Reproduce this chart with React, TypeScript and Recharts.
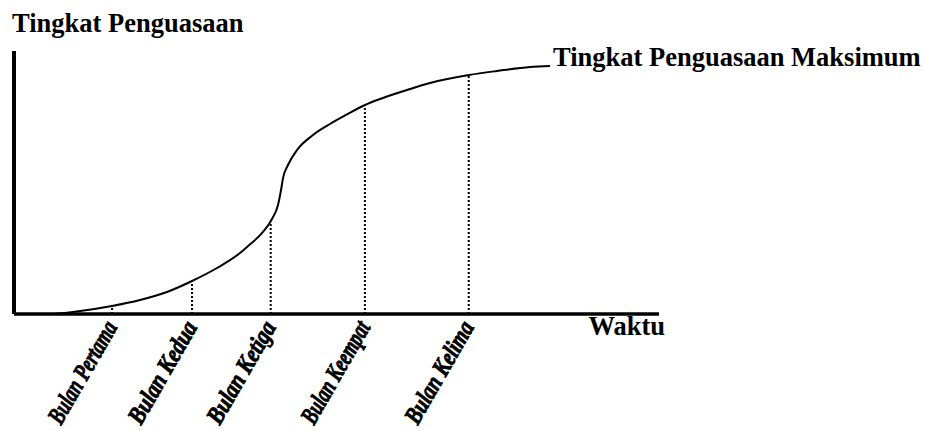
import { LineChart, Line, XAxis, YAxis, ReferenceLine, Label, LabelList } from 'recharts';

// curve (time 0-100, mastery 0-100)
const curveX = [6.05, 9.15, 15.19, 19.53, 23.72, 27.6, 31.47, 35.04, 36.12, 38.6, 40.0, 40.93, 41.4, 41.71, 42.48, 43.88, 46.36, 48.99, 51.63, 54.42, 56.74, 60.93, 64.5, 70.54, 74.88, 80.0, 83.1];
const curveY = [0, 0.76, 3.04, 5.32, 8.37, 12.55, 17.49, 23.19, 25.48, 31.18, 36.12, 41.44, 47.15, 51.71, 56.65, 62.36, 68.06, 72.24, 75.86, 79.47, 81.75, 85.17, 87.83, 90.87, 92.4, 93.92, 94.3];

const monthLabels = ['Bulan Pertama', 'Bulan Kedua', 'Bulan Ketiga', 'Bulan Keempat', 'Bulan Kelima'];
const monthX = [15.2, 27.6, 39.8, 54.4, 70.5];
const monthTop = [2.3, 12.5, 35.0, 79.5, 90.9];

const yTitle = 'Tingkat Penguasaan';
const xTitle = 'Waktu';
const maxLabel = 'Tingkat Penguasaan Maksimum';

const data = curveX.map((x, i) => ({ x, y: curveY[i] }));

const titleFont = { fontFamily: '"Liberation Serif", "Times New Roman", serif', fontWeight: 700, fontSize: 26.5, fill: '#000' };

function MonthTick(props: any) {
  const { x, y, index } = props;
  return (
    <text
      transform={`translate(${x + 6},${y + 13}) rotate(-60)`}
      textAnchor="end"
      textLength={114}
      lengthAdjust="spacingAndGlyphs"
      style={{
        fontFamily: '"Liberation Serif", serif',
        fontWeight: 700,
        fontStyle: 'italic',
        fontSize: 25,
        fill: '#000',
        stroke: '#000',
        strokeWidth: 0.9,
      }}
    >
      {monthLabels[index]}
    </text>
  );
}

export default function App() {
  return (
    <div style={{ position: 'absolute', left: 0, top: 0, width: 926, height: 430, background: '#fff' }}>
      <LineChart width={926} height={430} data={data} margin={{ top: 51, right: 267, bottom: 86, left: 4 }}>
        <XAxis
          type="number"
          dataKey="x"
          domain={[0, 100]}
          ticks={monthX}
          interval={0}
          tick={<MonthTick />}
          tickLine={false}
          tickSize={0}
          tickMargin={0}
          height={30}
          axisLine={{ stroke: '#000', strokeWidth: 3.5 }}
        >
          <Label
            content={(p: any) => (
              <text x={p.viewBox.x + p.viewBox.width + 6} y={p.viewBox.y + 21} textAnchor="end" style={titleFont}>
                {xTitle}
              </text>
            )}
          />
        </XAxis>
        <YAxis
          type="number"
          domain={[0, 100]}
          width={10}
          tick={false}
          tickLine={false}
          axisLine={{ stroke: '#000', strokeWidth: 4 }}
        >
          <Label
            content={(p: any) => (
              <text x={p.viewBox.x + p.viewBox.width - 2} y={p.viewBox.y - 19} style={titleFont}>
                {yTitle}
              </text>
            )}
          />
        </YAxis>
        {monthX.map((mx, i) => (
          <ReferenceLine
            key={monthLabels[i]}
            segment={[{ x: mx, y: 0 }, { x: mx, y: monthTop[i] }]}
            stroke="#000"
            strokeWidth={2}
            strokeDasharray="2 2"
            ifOverflow="visible"
          />
        ))}
        <Line type="monotone" dataKey="y" stroke="#000" strokeWidth={2} dot={false} isAnimationActive={false}>
          <LabelList
            dataKey="y"
            content={(p: any) =>
              p.index === data.length - 1 ? (
                <text x={p.x + 3} y={p.y} style={titleFont}>
                  {maxLabel}
                </text>
              ) : null
            }
          />
        </Line>
      </LineChart>
    </div>
  );
}
